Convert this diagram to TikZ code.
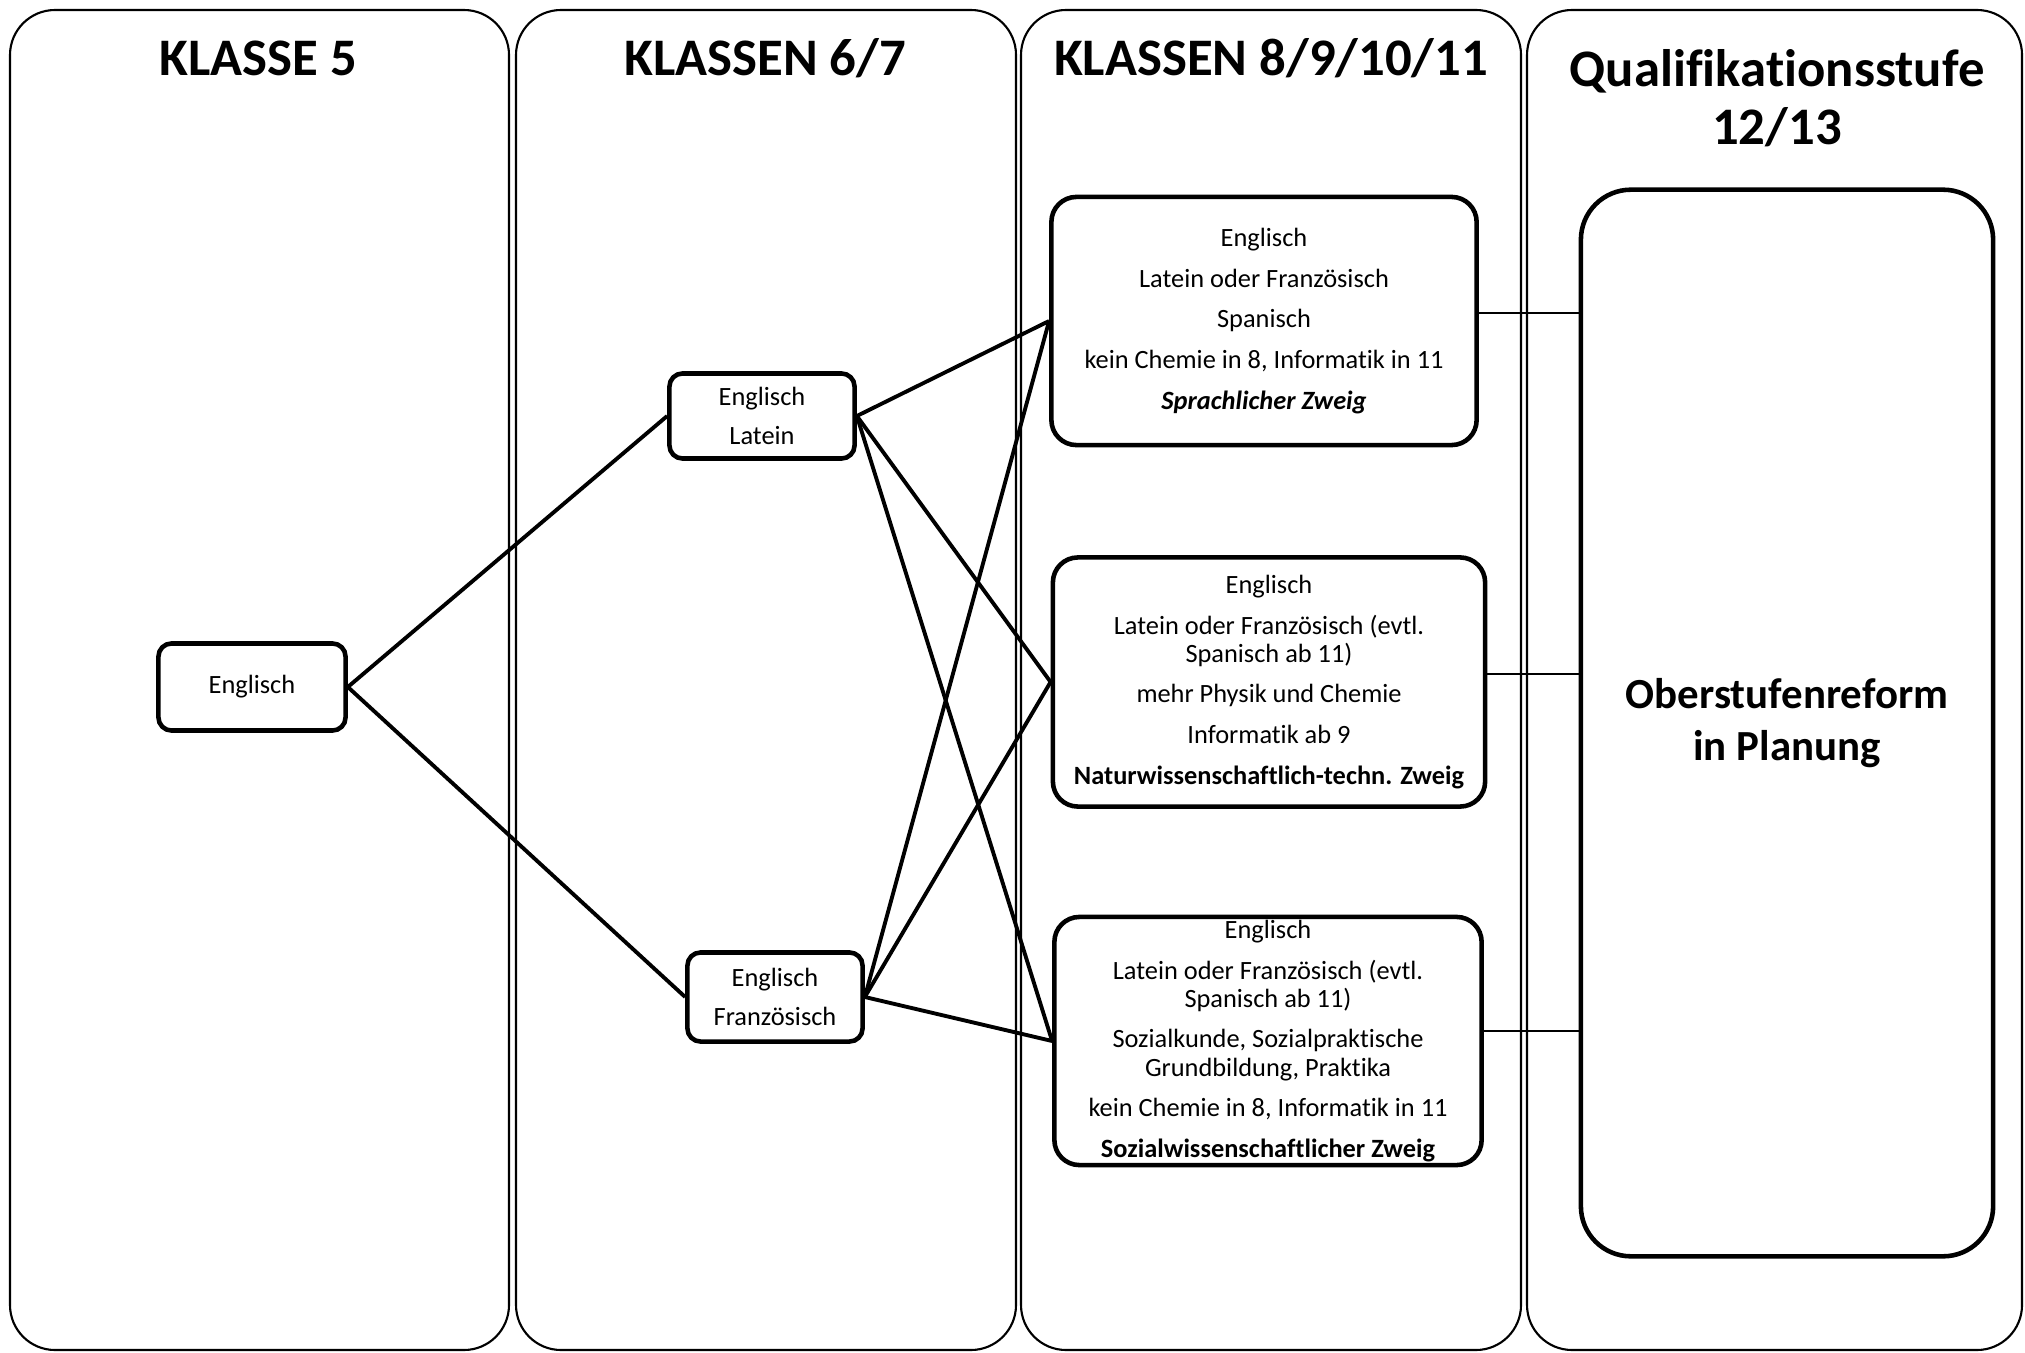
\documentclass[tikz,border=0pt]{standalone}
\usepackage{fontspec}
\setmainfont{Carlito}[RawFeature={-liga;-clig;-calt;-dlig}]
\tikzset{
  column/.style={draw, line width=0.6pt, rounded corners=0.45cm},
  coltitle/.style={font=\fontsize{15}{16.5}\selectfont\bfseries, align=center},
  smallbox/.style={draw, line width=1.3pt, rounded corners=0.13cm, align=center,
    font=\fontsize{7.5}{8}\selectfont},
  branchbox/.style={draw, line width=1.3pt, rounded corners=0.25cm},
  branchtext/.style={align=center, inner sep=0pt, font=\fontsize{7.5}{8}\selectfont},
  link/.style={line width=1.1pt},
  thinlink/.style={line width=0.8pt}
}
\begin{document}
\begin{tikzpicture}[x=0.01cm, y=-0.01cm]
\useasboundingbox (0,0) rectangle (2025,1352);

%Columns and titles
\draw[column] (10,10) rectangle (509,1350);
\draw[column] (516,10) rectangle (1016,1350);
\draw[column] (1021,10) rectangle (1521,1350);
\draw[column] (1527,10) rectangle (2022,1350);
\node[coltitle, anchor=base] (t5) at (258,76) {KLASSE 5};
\node[coltitle, anchor=base] (t67) at (765,76) {KLASSEN 6/7};
\node[coltitle, anchor=base] (t811) at (1271,76) {KLASSEN 8/9/10/11};
\node[coltitle] (tq) at (1777,98) {Qualifikationsstufe\\12/13};

% Klasse 5 and Klassen 6/7
\node[smallbox, minimum width=1.87cm, minimum height=0.87cm] (eng5) at (252,687) {Englisch};
\node[smallbox, minimum width=1.85cm, minimum height=0.85cm] (englat) at (762,416) {Englisch\\[3pt]Latein};
\node[smallbox, minimum width=1.75cm, minimum height=0.89cm] (engfra) at (775,997) {Englisch\\[3pt]Franz\"osisch};

% Klassen 8-11: the three branches
\node[branchbox, minimum width=4.25cm, minimum height=2.48cm] (sprach) at (1264,321) {};
\node[branchtext] at (sprach) {Englisch\\[3.6pt]Latein oder Franz\"osisch\\[3.6pt]Spanisch\\[3.6pt]kein Chemie in 8, Informatik in 11\\[3.6pt]\textbf{\textit{Sprachlicher Zweig}}};
\node[branchbox, minimum width=4.32cm, minimum height=2.49cm] (natur) at (1269,682) {};
\node[branchtext] at (natur) {Englisch\\[3.6pt]Latein oder Franz\"osisch (evtl.\\Spanisch ab 11)\\[3.6pt]mehr Physik und Chemie\\[3.6pt]Informatik ab 9\\[3.6pt]\textbf{Naturwissenschaftlich-techn. Zweig}};
\node[branchbox, minimum width=4.27cm, minimum height=2.48cm] (sozial) at (1268,1041) {};
\node[branchtext] at (sozial) {Englisch\\[3.6pt]Latein oder Franz\"osisch (evtl.\\Spanisch ab 11)\\[3.6pt]Sozialkunde, Sozialpraktische\\Grundbildung, Praktika\\[3.6pt]kein Chemie in 8, Informatik in 11\\[3.6pt]\textbf{Sozialwissenschaftlicher Zweig}};

% Qualifikationsstufe
\node[draw, line width=1.3pt, rounded corners=0.5cm, minimum width=4.12cm, minimum height=10.66cm,
  align=center, font=\fontsize{12.2}{14.6}\selectfont\bfseries] (ober) at (1787,723) {Oberstufenreform\\in Planung};

% connections
\draw[link] (eng5.east) -- (englat.west);
\draw[link] (eng5.east) -- (engfra.west);
\draw[link] (englat.east) -- (sprach.west);
\draw[link] (englat.east) -- (natur.west);
\draw[link] (englat.east) -- (sozial.west);
\draw[link] (engfra.east) -- (sprach.west);
\draw[link] (engfra.east) -- (natur.west);
\draw[link] (engfra.east) -- (sozial.west);
\draw[thinlink] ([yshift=0.08cm]sprach.east) -- ([yshift=0.08cm]sprach.east -| ober.west);
\draw[thinlink] ([yshift=0.08cm]natur.east) -- ([yshift=0.08cm]natur.east -| ober.west);
\draw[thinlink] ([yshift=0.1cm]sozial.east) -- ([yshift=0.1cm]sozial.east -| ober.west);
\end{tikzpicture}
\end{document}
